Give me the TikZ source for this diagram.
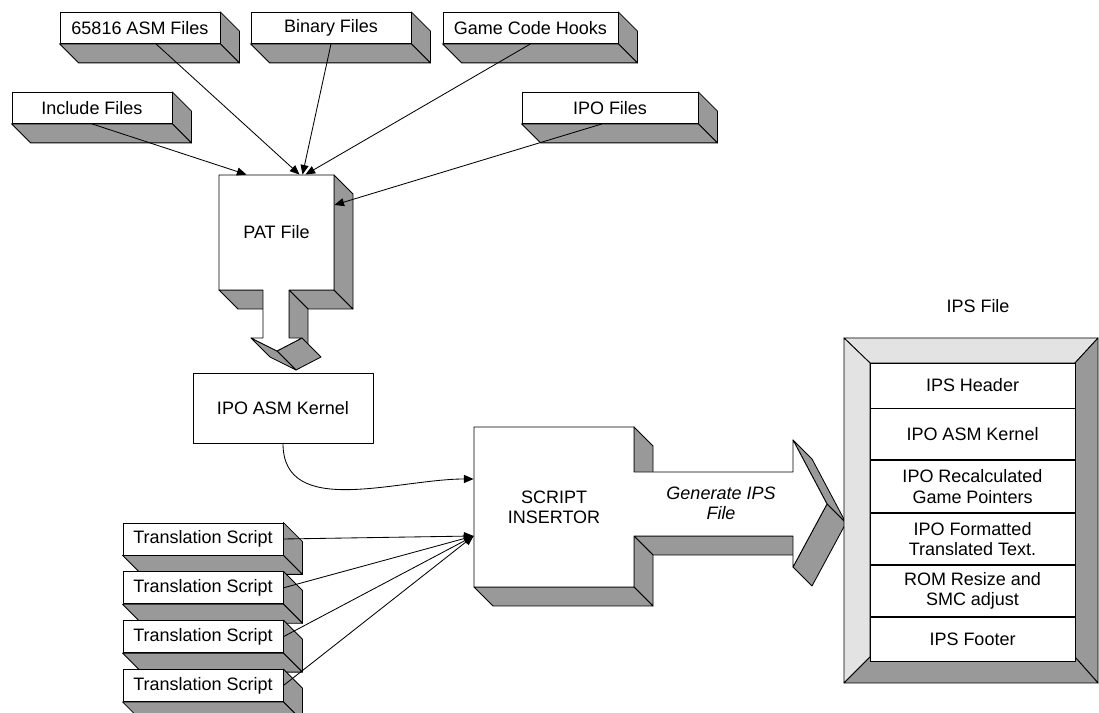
\documentclass[tikz,border=0pt]{standalone}
\usepackage{fontspec}
\setmainfont{Liberation Sans}
\usetikzlibrary{arrows.meta, positioning}

\definecolor{sidegray}{HTML}{999999}
\definecolor{bevel}{HTML}{E3E3E3}
\newcommand{\diafont}{\fontsize{12.8}{14.4}\selectfont}

\begin{document}
\begin{tikzpicture}[
    x=0.25mm, y=0.25mm,
    font=\diafont,
    line width=0.6pt, line join=round,
    face/.style={draw, fill=sidegray},
    slab/.style={rectangle, draw, fill=white, minimum width=40mm, minimum height=7.75mm, inner sep=0pt,
        append after command={\pgfextra{
            \draw[face] (\tikzlastnode.north east) -- ++(19,-19) -- ([shift={(19,-19)}]\tikzlastnode.south east) -- (\tikzlastnode.south east) -- cycle;
            \draw[face] (\tikzlastnode.south west) -- ++(19,-19) -- ([shift={(19,-19)}]\tikzlastnode.south east) -- (\tikzlastnode.south east) -- cycle;
        }}},
    row/.style={rectangle, draw, fill=white, minimum width=51.25mm, inner sep=0pt, align=center},
    arrow/.style={-{Triangle[length=2.4mm, width=2mm]}}
]
    \useasboundingbox (0,0) rectangle (1099,713);

    % Input files
    \node[slab] (asm) at (140,685) {65816 ASM Files};
    \node[slab] (bin) at (331,685) {Binary Files};
    \node[slab, minimum width=43.75mm] (hooks) at (530.5,685) {Game Code Hooks};
    \node[slab] (inc) at (92,605) {Include Files};
    \node[slab, minimum width=44mm] (ipofiles) at (610,605) {IPO Files};

    % PAT file block with its down arrow
    \draw[face] (263,423) -- (219,423) -- (238,404) -- (282,404) -- cycle;
    \draw[face] (334,423) -- (289,423) -- (308,404) -- (353,404) -- cycle;
    \draw[face] (334,538) -- (353,519) -- (353,404) -- (334,423) -- cycle;
    \draw[face] (289,423) -- (289,375) -- (308,356) -- (308,404) -- cycle;
    \draw[face] (302,375) -- (277,362) -- (296,343) -- (321,356) -- cycle;
    \draw[face] (277,362) -- (251,375) -- (270,356) -- (296,343) -- cycle;
    \draw[fill=white] (219,538) -- (334,538) -- (334,423) -- (289,423) -- (289,375) -- (302,375)
        -- (277,362) -- (251,375) -- (263,375) -- (263,423) -- (219,423) -- cycle;
    \node[minimum width=28.75mm, minimum height=28.75mm] (pat) at (276.5,480.5) {PAT File};

    % Kernel
    \node[rectangle, draw, fill=white, minimum width=45mm, minimum height=17.5mm] (kernel) at (283,305) {IPO ASM Kernel};

    % Script insertor block with its right arrow
    \draw[face] (634,286) -- (653,267) -- (653,222) -- (634,241) -- cycle;
    \draw[face] (793,177) -- (634,177) -- (653,158) -- (812,158) -- cycle;
    \draw[face] (634,177) -- (634,126) -- (653,107) -- (653,158) -- cycle;
    \draw[face] (634,126) -- (474,126) -- (493,107) -- (653,107) -- cycle;
    \draw[face] (793,273) -- (827,209) -- (846,190) -- (812,254) -- cycle;
    \draw[face] (827,209) -- (793,146) -- (812,127) -- (846,190) -- cycle;
    \draw[fill=white] (474,286) -- (634,286) -- (634,241) -- (793,241) -- (793,273) -- (827,209)
        -- (793,146) -- (793,177) -- (634,177) -- (634,126) -- (474,126) -- cycle;
    \node[minimum width=40mm, minimum height=40mm, align=center] (insertor) at (554,206) {SCRIPT\\INSERTOR};
    \node[font=\diafont\itshape, align=center] (generate) at (721,210) {Generate IPS\\File};

    % Translation scripts
    \node[slab, minimum height=8mm] (ts1) at (203,174) {Translation Script};
    \node[slab, minimum height=8mm, below=4mm of ts1] (ts2) {Translation Script};
    \node[slab, minimum height=8mm, below=4mm of ts2] (ts3) {Translation Script};
    \node[slab, minimum height=8mm, below=4mm of ts3] (ts4) {Translation Script};

    % IPS file frame
    \draw[fill=bevel] (844,375) -- (1098,375) -- (1075,350) -- (870,350) -- cycle;
    \draw[fill=bevel] (844,375) -- (870,350) -- (870,56) -- (844,30) -- cycle;
    \draw[fill=sidegray] (1098,375) -- (1098,30) -- (1075,56) -- (1075,350) -- cycle;
    \draw[fill=sidegray] (844,30) -- (1098,30) -- (1075,56) -- (870,56) -- cycle;
    \node (ipslabel) at (978,407) {IPS File};
    \node[row, minimum height=11.25mm] (header) at (972.5,327.5) {IPS Header};
    \node[row, minimum height=12.75mm, below=0pt of header] (kernelrow) {IPO ASM Kernel};
    \node[row, minimum height=13mm, below=0pt of kernelrow] (pointers) {IPO Recalculated\\Game Pointers};
    \node[row, minimum height=12.75mm, below=0pt of pointers] (text) {IPO Formatted\\Translated Text.};
    \node[row, minimum height=12.75mm, below=0pt of text] (resize) {ROM Resize and\\SMC adjust};
    \node[row, minimum height=11mm, below=0pt of resize] (footer) {IPS Footer};

    % Arrows
    \draw[arrow] (inc.south) -- ([shift={(-30,0)}]pat.north);
    \draw[arrow] ([shift={(16,0)}]asm.south) -- ([shift={(23,0)}]pat.north);
    \draw[arrow] (bin.south) -- ([shift={(26,0)}]pat.north);
    \draw[arrow] (hooks.south) -- ([shift={(29,0)}]pat.north);
    \draw[arrow] ([shift={(-8,0)}]ipofiles.south) -- ([shift={(0,27.5)}]pat.east);
    \draw[arrow] (kernel.south) to[out=-90, in=180] ([shift={(0,28)}]insertor.west);
    \draw[arrow] (ts1.east) -- ([shift={(0,-29)}]insertor.west);
    \draw[arrow] (ts2.east) -- ([shift={(0,-29)}]insertor.west);
    \draw[arrow] (ts3.east) -- ([shift={(0,-29)}]insertor.west);
    \draw[arrow] (ts4.east) -- ([shift={(0,-29)}]insertor.west);
\end{tikzpicture}
\end{document}
